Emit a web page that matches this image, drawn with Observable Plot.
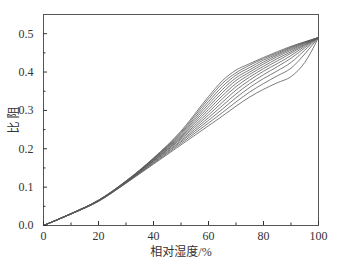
<!DOCTYPE html>
<html>
<head>
<meta charset="utf-8">
<script src="https://cdn.jsdelivr.net/npm/d3@7"></script>
<script src="https://cdn.jsdelivr.net/npm/@observablehq/plot@0.6"></script>
<style>
  html, body { margin: 0; padding: 0; background: #fff; }
  #chart svg, #chart svg text { font-family: "Liberation Serif", "Noto Sans CJK SC", serif !important; }
</style>
</head>
<body>
<div id="chart"></div>
<script>
// Relative humidity (%) sample points
const humidity = [0, 10, 20, 30, 40, 50, 60, 65, 70, 75, 80, 85, 90, 95, 100];

// Ratio (比阻) curves, top to bottom
const curve01 = [0, .031, .066, .116, .176, .246, .336, .377, .405, .422, .438, .453, .467, .479, .49];
const curve02 = [0, .031, .066, .116, .175, .243, .330, .370, .398, .418, .435, .450, .465, .478, .49];
const curve03 = [0, .031, .066, .115, .174, .240, .323, .362, .392, .412, .431, .447, .463, .477, .49];
const curve04 = [0, .031, .065, .115, .173, .237, .316, .354, .385, .406, .426, .444, .460, .476, .49];
const curve05 = [0, .031, .065, .114, .172, .234, .309, .346, .378, .400, .421, .440, .457, .474, .49];
const curve06 = [0, .030, .065, .114, .170, .231, .302, .338, .370, .394, .415, .435, .453, .472, .49];
const curve07 = [0, .030, .065, .113, .169, .228, .295, .330, .362, .387, .409, .429, .449, .470, .49];
const curve08 = [0, .030, .064, .113, .168, .225, .288, .321, .353, .379, .402, .422, .443, .467, .49];
const curve09 = [0, .030, .064, .112, .166, .221, .281, .312, .343, .370, .393, .414, .436, .463, .49];
const curve10 = [0, .030, .064, .112, .164, .218, .274, .303, .333, .360, .383, .403, .425, .457, .49];
const curve11 = [0, .030, .063, .111, .162, .214, .267, .294, .322, .348, .370, .390, .410, .447, .49];
const curve12 = [0, .030, .063, .110, .160, .210, .260, .285, .311, .335, .355, .372, .388, .425, .49];

const curves = [curve01, curve02, curve03, curve04, curve05, curve06,
                curve07, curve08, curve09, curve10, curve11, curve12];

const xTicks = [0, 20, 40, 60, 80, 100];
const xMinorTicks = [10, 30, 50, 70, 90];
const yTicks = [0.0, 0.1, 0.2, 0.3, 0.4, 0.5];
const yMinorTicks = [0.05, 0.15, 0.25, 0.35, 0.45];

const xLabel = "相对湿度/%";
const yLabel = "比 阻";

const rows = [];
curves.forEach((c, i) => c.forEach((v, j) => rows.push({series: i, x: humidity[j], y: v})));

const chart = Plot.plot({
  width: 353,
  height: 267,
  marginLeft: 43,
  marginRight: 35,
  marginTop: 14,
  marginBottom: 42,
  style: {fontSize: "12px", color: "#333", background: "#fff"},
  x: {domain: [0, 100]},
  y: {domain: [0, 0.55]},
  marks: [
    Plot.line(rows, {x: "x", y: "y", z: "series", stroke: "#5a5a5a", strokeWidth: 0.8, curve: "monotone-x"}),
    Plot.frame({stroke: "#555", strokeWidth: 1}),
    Plot.axisX(xTicks, {tickSize: -4, tickPadding: 10, tickFormat: d => String(d), label: xLabel, labelAnchor: "center", labelArrow: "none", labelOffset: 30}),
    Plot.axisX(xMinorTicks, {tickSize: -2.5, tickFormat: () => "", label: null}),
    Plot.axisY(yTicks, {tickSize: -4, tickPadding: 14, tickFormat: d => d.toFixed(1), label: yLabel, labelAnchor: "center", labelArrow: "none", labelOffset: 34}),
    Plot.axisY(yMinorTicks, {tickSize: -2.5, tickFormat: () => "", label: null})
  ]
});
document.getElementById("chart").appendChild(chart);
</script>
</body>
</html>
